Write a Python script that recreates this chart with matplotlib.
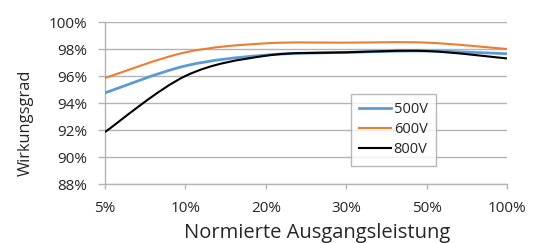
import matplotlib
matplotlib.use("Agg")
import matplotlib.pyplot as plt
from matplotlib.path import Path
from matplotlib.patches import PathPatch
from matplotlib.lines import Line2D

categories = ["5%", "10%", "20%", "30%", "50%", "100%"]
v500 = [94.75, 96.75, 97.55, 97.75, 97.85, 97.65]
v600 = [95.85, 97.75, 98.42, 98.47, 98.47, 98.0]
v800 = [91.85, 96.0, 97.5, 97.75, 97.85, 97.3]
series_names = ["500V", "600V", "800V"]
y_ticks = [88, 90, 92, 94, 96, 98, 100]

colors = ["#5B9BD5", "#ED7D31", "#000000"]
widths = [2.0, 1.5, 1.5]

plt.rcParams['font.family'] = ['Open Sans', 'DejaVu Sans']

fig = plt.figure(figsize=(5.39, 2.43), dpi=100)
ax = fig.add_axes([105/539, 1-184/243, 402/539, 162/243])

def smooth_path(xs, ys):
    # Excel-style smoothed line (cubic Bezier, tension 1/6)
    n = len(xs)
    pts = list(zip(xs, ys))
    verts = [pts[0]]
    codes = [Path.MOVETO]
    for i in range(n - 1):
        p0 = pts[i - 1] if i > 0 else pts[i]
        p1 = pts[i]
        p2 = pts[i + 1]
        p3 = pts[i + 2] if i + 2 < n else pts[i + 1]
        c1 = (p1[0] + (p2[0] - p0[0]) / 6, p1[1] + (p2[1] - p0[1]) / 6)
        c2 = (p2[0] - (p3[0] - p1[0]) / 6, p2[1] - (p3[1] - p1[1]) / 6)
        verts += [c1, c2, p2]
        codes += [Path.CURVE4] * 3
    return Path(verts, codes)

xs = list(range(len(categories)))
for vals, c, lw in zip([v500, v600, v800], colors, widths):
    patch = PathPatch(smooth_path(xs, vals), facecolor='none', edgecolor=c,
                      linewidth=lw, zorder=3, capstyle='butt')
    ax.add_patch(patch)

ax.set_xlim(0, len(categories) - 1)
ax.set_ylim(88, 100)
ax.set_xticks(xs)
ax.set_xticklabels(categories)
ax.set_yticks(y_ticks)
ax.set_yticklabels([f"{t}%" for t in y_ticks])

grid_c = '#B3B3B3'
ax.grid(axis='y', color=grid_c, linewidth=1)
ax.set_axisbelow(True)
for s in ['top', 'right']:
    ax.spines[s].set_visible(False)
ax.spines['left'].set_color(grid_c)
ax.spines['bottom'].set_color(grid_c)
ax.spines['left'].set_linewidth(1)
ax.spines['bottom'].set_linewidth(1)

ax.tick_params(axis='x', length=3.6, width=1, color=grid_c, pad=8.5,
               labelsize=11, labelcolor='#262626')
ax.tick_params(axis='y', length=5, width=1, color=grid_c, pad=7.7,
               labelsize=11, labelcolor='#262626')

ax.set_xlabel("Normierte Ausgangsleistung", fontsize=14.5, color='#262626')
ax.xaxis.set_label_coords(0.527, -0.24)
ax.set_ylabel("Wirkungsgrad", fontsize=11.8, color='#262626')
ax.yaxis.set_label_coords(-0.178, 0.38)

handles = [Line2D([], [], color=c, linewidth=lw) for c, lw in zip(colors, widths)]
leg = ax.legend(handles, series_names, loc='upper left',
                bbox_to_anchor=(0.611, 0.554), frameon=True, fancybox=False,
                fontsize=10.5, handlelength=2.2, handletextpad=0.2,
                labelspacing=0.35, borderpad=0.55, borderaxespad=0)
leg.get_frame().set_edgecolor('#A6A6A6')
leg.get_frame().set_linewidth(1)
for t in leg.get_texts():
    t.set_color('#262626')

fig.savefig("out.png", dpi=100)
